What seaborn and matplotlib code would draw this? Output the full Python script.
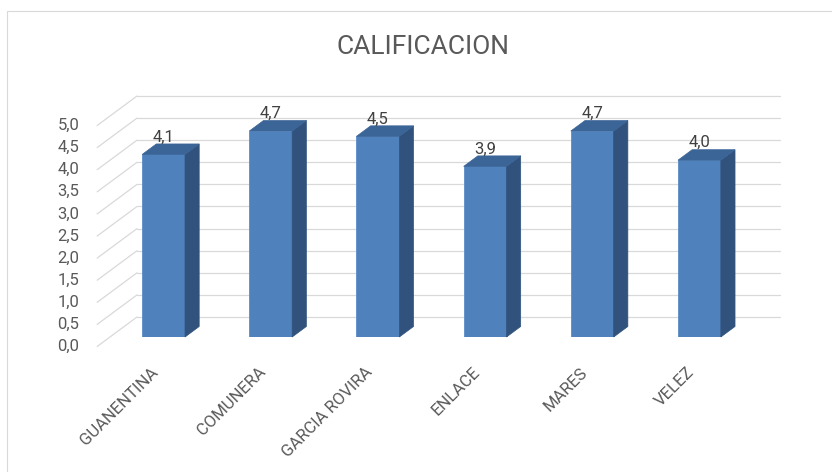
import pandas as pd
import matplotlib.pyplot as plt
from matplotlib.patches import Polygon, Rectangle
import seaborn as sns

CATEGORIES = ["GUANENTINA", "COMUNERA", "GARCIA ROVIRA", "ENLACE", "MARES", "VELEZ"]
CALIFICACION = [4.13, 4.66, 4.54, 3.86, 4.66, 4.0]
Y_TICKS = [0.0, 0.5, 1.0, 1.5, 2.0, 2.5, 3.0, 3.5, 4.0, 4.5, 5.0]
Y_LABELS = ["0,0", "0,5", "1,0", "1,5", "2,0", "2,5", "3,0", "3,5", "4,0", "4,5", "5,0"]
TITLE = "CALIFICACION"

FRONT = "#4f81bd"
SIDE = "#30527c"
TOP = "#3b6497"
GRID = "#d9d9d9"
TEXT = "#595959"

sns.set_theme(style="white")
plt.rcParams["font.family"] = ["Roboto", "DejaVu Sans"]

W, H = 832, 472
fig = plt.figure(figsize=(W / 100, H / 100), dpi=100)
# el eje coincide con el plano frontal de las barras
ax = fig.add_axes([110 / W, (H - 337) / H, 643 / W, 221 / H])

df = pd.DataFrame({"sede": CATEGORIES, "calificacion": CALIFICACION})
sns.barplot(data=df, x="sede", y="calificacion", color=FRONT, saturation=1,
            width=0.4, edgecolor="#5b8cc8", linewidth=0.6, ax=ax, zorder=3)
ax.set_xlim(-0.5, len(CATEGORIES) - 0.5)
ax.set_ylim(0, 5)
ax.axis("off")

# pixeles por unidad de datos, para el efecto 3D
px_x = 643 / len(CATEGORIES)
px_y = 221 / 5


def depth(t):
    # desplazamiento de t px hacia el fondo
    return 1.35 * t / px_x, t / px_y


bx, by = depth(20)      # pared del fondo
fx, fy = depth(-9.5)    # borde frontal
dx, dy = depth(10.5)    # profundidad de la barra

x_left, x_right = ax.get_xlim()
for v in Y_TICKS:
    ax.plot([x_left + bx, x_right + bx], [v + by, v + by], color=GRID, lw=0.9,
            zorder=1, clip_on=False)
    ax.plot([x_left + fx, x_left + bx], [v + fy, v + by], color=GRID, lw=0.9,
            zorder=1, clip_on=False)

for v, lab in zip(Y_TICKS, Y_LABELS):
    ax.text(x_left + fx - 18 / px_x, v + fy, lab, ha="right", va="center",
            fontsize=12, color=TEXT, clip_on=False)

for i, name in enumerate(CATEGORIES):
    ax.text(i + fx, fy - 18 / px_y, name, rotation=45, rotation_mode="anchor",
            ha="right", va="top", fontsize=12, color=TEXT, clip_on=False)

for p, v in zip(list(ax.patches), CALIFICACION):
    x0 = p.get_x()
    x1 = x0 + p.get_width()
    h = p.get_height()
    side = [(x1, 0), (x1, h), (x1 + dx, h + dy), (x1 + dx, dy)]
    top = [(x0, h), (x1, h), (x1 + dx, h + dy), (x0 + dx, h + dy)]
    ax.add_patch(Polygon(side, closed=True, fc=SIDE, ec=SIDE, lw=0.5, zorder=3, clip_on=False))
    ax.add_patch(Polygon(top, closed=True, fc=TOP, ec=TOP, lw=0.5, zorder=3, clip_on=False))
    ax.annotate(f"{v:.1f}".replace(".", ","), xy=(x0 + p.get_width() / 2, h),
                xytext=(0, 13), textcoords="offset pixels", ha="center",
                va="baseline", fontsize=12, color="#404040", annotation_clip=False)

fig.text(423 / W, 1 - 47.5 / H, TITLE, ha="center", va="center", fontsize=19, color=TEXT)
fig.patches.append(Rectangle((7.5 / W, -0.1), 2, 1 - 10.5 / H + 0.1,
                             transform=fig.transFigure, fill=False, ec=GRID, lw=0.8))

fig.savefig("out.png", dpi=100)
